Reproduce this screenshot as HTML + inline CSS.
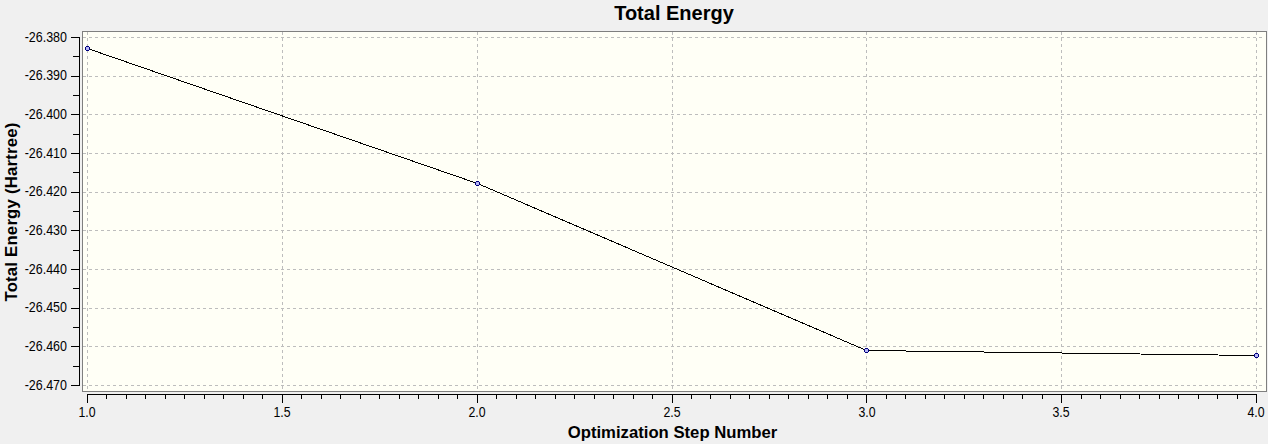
<!DOCTYPE html>
<html><head><meta charset="utf-8"><title>Total Energy</title>
<style>
html,body{margin:0;padding:0;background:#f0f0f0;}
body{width:1268px;height:444px;position:relative;overflow:hidden;font-family:"Liberation Sans",sans-serif;color:#000;}
.yl{position:absolute;left:-33px;width:100px;text-align:right;font-size:14.5px;line-height:16px;height:16px;white-space:nowrap;transform:scaleX(0.86);transform-origin:100% 50%;}
.xl{position:absolute;top:404px;width:40px;text-align:center;font-size:14.5px;line-height:16px;height:16px;white-space:nowrap;transform:scaleX(0.85);transform-origin:50% 50%;}
.title{position:absolute;left:474px;width:400px;top:2.4px;text-align:center;font-weight:bold;font-size:20px;line-height:22px;white-space:nowrap;}
.xt{position:absolute;left:472.5px;width:400px;top:423.2px;text-align:center;font-weight:bold;font-size:16.7px;line-height:20px;white-space:nowrap;}
.yt{position:absolute;left:12px;top:211.55px;width:0;height:0;}
.yt span{position:absolute;left:-150px;width:300px;top:-10px;height:20px;line-height:20px;text-align:center;font-weight:bold;font-size:16.7px;letter-spacing:0.23px;transform:rotate(-90deg);transform-origin:50% 50%;white-space:nowrap;display:block;}
</style></head><body>
<svg width="1268" height="444" viewBox="0 0 1268 444" style="position:absolute;left:0;top:0"><rect x="0" y="0" width="1268" height="444" fill="#f0f0f0"/><rect x="82.5" y="31.5" width="1184" height="360" fill="#fffff6" stroke="#7f7f7f" stroke-width="1" shape-rendering="crispEdges"/><g stroke="#bdbdbd" stroke-width="1" stroke-dasharray="3,3" shape-rendering="crispEdges"><line x1="83" x2="1265" y1="37.5" y2="37.5"/><line x1="83" x2="1265" y1="76.5" y2="76.5"/><line x1="83" x2="1265" y1="114.5" y2="114.5"/><line x1="83" x2="1265" y1="153.5" y2="153.5"/><line x1="83" x2="1265" y1="192.5" y2="192.5"/><line x1="83" x2="1265" y1="230.5" y2="230.5"/><line x1="83" x2="1265" y1="269.5" y2="269.5"/><line x1="83" x2="1265" y1="308.5" y2="308.5"/><line x1="83" x2="1265" y1="346.5" y2="346.5"/><line x1="83" x2="1265" y1="385.5" y2="385.5"/><line x1="87.5" x2="87.5" y1="32" y2="391"/><line x1="282.5" x2="282.5" y1="32" y2="391"/><line x1="477.5" x2="477.5" y1="32" y2="391"/><line x1="672.5" x2="672.5" y1="32" y2="391"/><line x1="866.5" x2="866.5" y1="32" y2="391"/><line x1="1061.5" x2="1061.5" y1="32" y2="391"/><line x1="1256.5" x2="1256.5" y1="32" y2="391"/></g><g stroke="#000" stroke-width="1" shape-rendering="crispEdges"><line x1="79.5" x2="79.5" y1="37" y2="386"/><line x1="71" x2="80" y1="37.5" y2="37.5"/><line x1="73" x2="80" y1="56.5" y2="56.5"/><line x1="71" x2="80" y1="76.5" y2="76.5"/><line x1="73" x2="80" y1="95.5" y2="95.5"/><line x1="71" x2="80" y1="114.5" y2="114.5"/><line x1="73" x2="80" y1="134.5" y2="134.5"/><line x1="71" x2="80" y1="153.5" y2="153.5"/><line x1="73" x2="80" y1="172.5" y2="172.5"/><line x1="71" x2="80" y1="192.5" y2="192.5"/><line x1="73" x2="80" y1="211.5" y2="211.5"/><line x1="71" x2="80" y1="230.5" y2="230.5"/><line x1="73" x2="80" y1="250.5" y2="250.5"/><line x1="71" x2="80" y1="269.5" y2="269.5"/><line x1="73" x2="80" y1="288.5" y2="288.5"/><line x1="71" x2="80" y1="308.5" y2="308.5"/><line x1="73" x2="80" y1="327.5" y2="327.5"/><line x1="71" x2="80" y1="346.5" y2="346.5"/><line x1="73" x2="80" y1="366.5" y2="366.5"/><line x1="71" x2="80" y1="385.5" y2="385.5"/><line x1="87" x2="1257" y1="394.5" y2="394.5"/><line x1="87.5" x2="87.5" y1="394" y2="403"/><line x1="106.5" x2="106.5" y1="394" y2="399"/><line x1="126.5" x2="126.5" y1="394" y2="399"/><line x1="145.5" x2="145.5" y1="394" y2="399"/><line x1="165.5" x2="165.5" y1="394" y2="399"/><line x1="184.5" x2="184.5" y1="394" y2="399"/><line x1="204.5" x2="204.5" y1="394" y2="399"/><line x1="223.5" x2="223.5" y1="394" y2="399"/><line x1="243.5" x2="243.5" y1="394" y2="399"/><line x1="262.5" x2="262.5" y1="394" y2="399"/><line x1="282.5" x2="282.5" y1="394" y2="403"/><line x1="301.5" x2="301.5" y1="394" y2="399"/><line x1="321.5" x2="321.5" y1="394" y2="399"/><line x1="340.5" x2="340.5" y1="394" y2="399"/><line x1="360.5" x2="360.5" y1="394" y2="399"/><line x1="379.5" x2="379.5" y1="394" y2="399"/><line x1="399.5" x2="399.5" y1="394" y2="399"/><line x1="418.5" x2="418.5" y1="394" y2="399"/><line x1="438.5" x2="438.5" y1="394" y2="399"/><line x1="457.5" x2="457.5" y1="394" y2="399"/><line x1="477.5" x2="477.5" y1="394" y2="403"/><line x1="496.5" x2="496.5" y1="394" y2="399"/><line x1="516.5" x2="516.5" y1="394" y2="399"/><line x1="535.5" x2="535.5" y1="394" y2="399"/><line x1="555.5" x2="555.5" y1="394" y2="399"/><line x1="574.5" x2="574.5" y1="394" y2="399"/><line x1="594.5" x2="594.5" y1="394" y2="399"/><line x1="613.5" x2="613.5" y1="394" y2="399"/><line x1="633.5" x2="633.5" y1="394" y2="399"/><line x1="652.5" x2="652.5" y1="394" y2="399"/><line x1="672.5" x2="672.5" y1="394" y2="403"/><line x1="691.5" x2="691.5" y1="394" y2="399"/><line x1="710.5" x2="710.5" y1="394" y2="399"/><line x1="730.5" x2="730.5" y1="394" y2="399"/><line x1="749.5" x2="749.5" y1="394" y2="399"/><line x1="769.5" x2="769.5" y1="394" y2="399"/><line x1="788.5" x2="788.5" y1="394" y2="399"/><line x1="808.5" x2="808.5" y1="394" y2="399"/><line x1="827.5" x2="827.5" y1="394" y2="399"/><line x1="847.5" x2="847.5" y1="394" y2="399"/><line x1="866.5" x2="866.5" y1="394" y2="403"/><line x1="886.5" x2="886.5" y1="394" y2="399"/><line x1="905.5" x2="905.5" y1="394" y2="399"/><line x1="925.5" x2="925.5" y1="394" y2="399"/><line x1="944.5" x2="944.5" y1="394" y2="399"/><line x1="964.5" x2="964.5" y1="394" y2="399"/><line x1="983.5" x2="983.5" y1="394" y2="399"/><line x1="1003.5" x2="1003.5" y1="394" y2="399"/><line x1="1022.5" x2="1022.5" y1="394" y2="399"/><line x1="1042.5" x2="1042.5" y1="394" y2="399"/><line x1="1061.5" x2="1061.5" y1="394" y2="403"/><line x1="1081.5" x2="1081.5" y1="394" y2="399"/><line x1="1100.5" x2="1100.5" y1="394" y2="399"/><line x1="1120.5" x2="1120.5" y1="394" y2="399"/><line x1="1139.5" x2="1139.5" y1="394" y2="399"/><line x1="1159.5" x2="1159.5" y1="394" y2="399"/><line x1="1178.5" x2="1178.5" y1="394" y2="399"/><line x1="1198.5" x2="1198.5" y1="394" y2="399"/><line x1="1217.5" x2="1217.5" y1="394" y2="399"/><line x1="1237.5" x2="1237.5" y1="394" y2="399"/><line x1="1256.5" x2="1256.5" y1="394" y2="403"/></g><polyline points="87.5,48.5 477.5,183.5 866.5,350.5 1256.5,355.5" fill="none" stroke="#000" stroke-width="1" shape-rendering="crispEdges"/><g shape-rendering="crispEdges"><rect x="86" y="46" width="3" height="5" fill="#00007e"/><rect x="85" y="47" width="5" height="3" fill="#00007e"/><rect x="86" y="47" width="3" height="3" fill="#b4b4f4"/><rect x="476" y="181" width="3" height="5" fill="#00007e"/><rect x="475" y="182" width="5" height="3" fill="#00007e"/><rect x="476" y="182" width="3" height="3" fill="#b4b4f4"/><rect x="865" y="348" width="3" height="5" fill="#00007e"/><rect x="864" y="349" width="5" height="3" fill="#00007e"/><rect x="865" y="349" width="3" height="3" fill="#b4b4f4"/><rect x="1255" y="353" width="3" height="5" fill="#00007e"/><rect x="1254" y="354" width="5" height="3" fill="#00007e"/><rect x="1255" y="354" width="3" height="3" fill="#b4b4f4"/></g></svg>
<div class="yl" style="top:28.5px">-26.380</div><div class="yl" style="top:67.2px">-26.390</div><div class="yl" style="top:105.8px">-26.400</div><div class="yl" style="top:144.5px">-26.410</div><div class="yl" style="top:183.2px">-26.420</div><div class="yl" style="top:221.8px">-26.430</div><div class="yl" style="top:260.5px">-26.440</div><div class="yl" style="top:299.2px">-26.450</div><div class="yl" style="top:337.8px">-26.460</div><div class="yl" style="top:376.5px">-26.470</div><div class="xl" style="left:67.2px">1.0</div><div class="xl" style="left:262.0px">1.5</div><div class="xl" style="left:456.9px">2.0</div><div class="xl" style="left:651.7px">2.5</div><div class="xl" style="left:846.5px">3.0</div><div class="xl" style="left:1041.4px">3.5</div><div class="xl" style="left:1236.2px">4.0</div>
<div class="title">Total Energy</div>
<div class="xt">Optimization Step Number</div>
<div class="yt"><span>Total Energy (Hartree)</span></div>
</body></html>
